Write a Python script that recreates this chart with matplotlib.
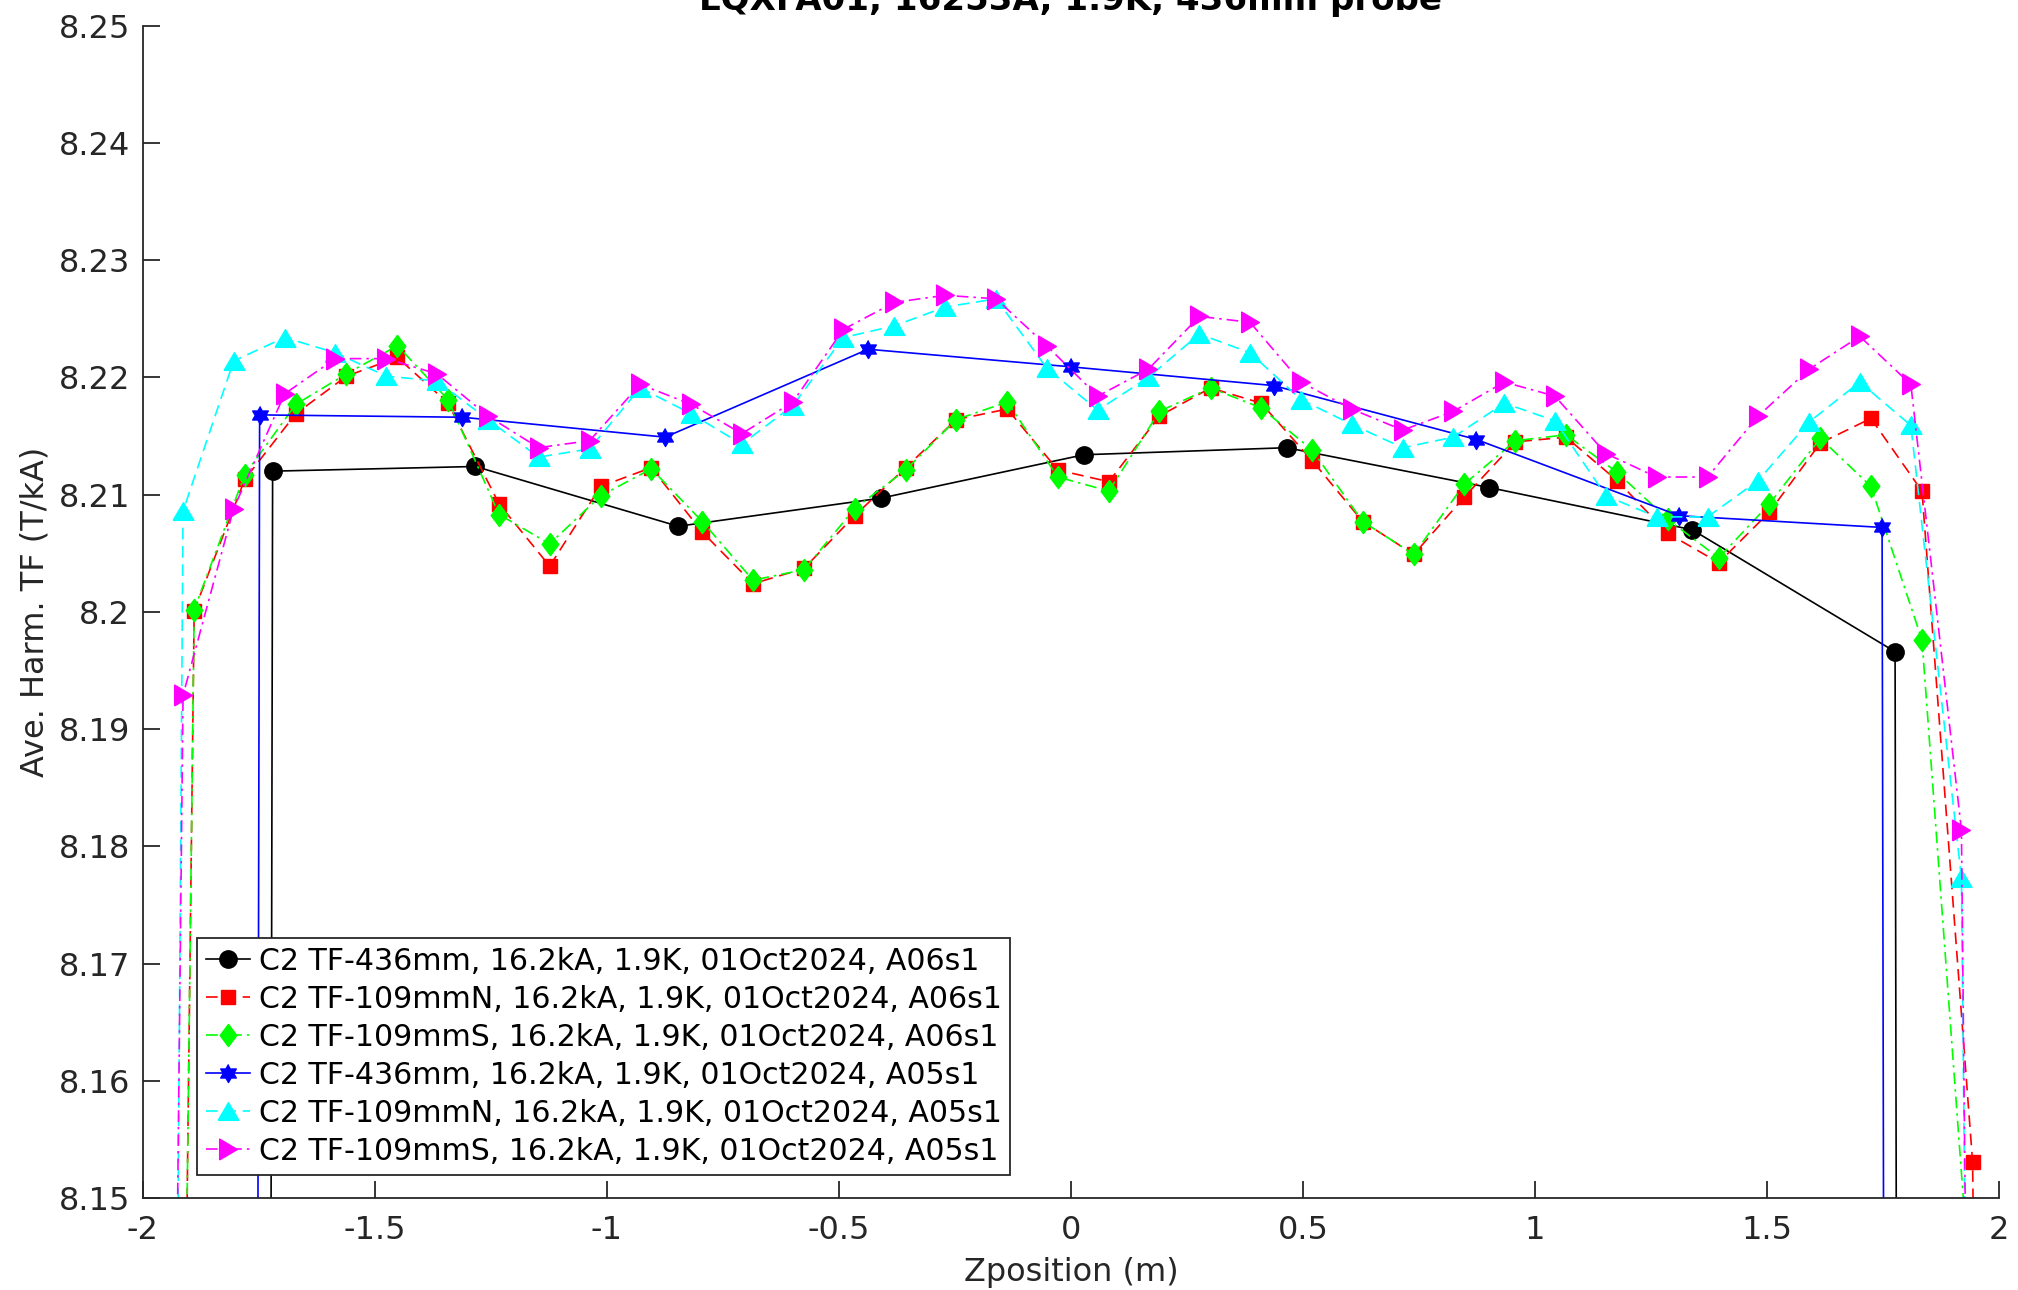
import numpy as np
import matplotlib
matplotlib.use("Agg")
import matplotlib.pyplot as plt

# probe positions along the magnet (m); first/last entries sit outside the plotted window
z_436_a06 = [-2.157, -1.720, -1.283, -0.846, -0.409, 0.028, 0.465, 0.902, 1.339, 1.776, 2.213]
z_436_a05 = [-2.185, -1.748, -1.311, -0.874, -0.437, 0.000, 0.437, 0.874, 1.311, 1.748, 2.185]
z_109_a06 = [-1.998, -1.889, -1.780, -1.670, -1.561, -1.451, -1.342, -1.232, -1.123, -1.013,
             -0.904, -0.794, -0.685, -0.575, -0.466, -0.356, -0.247, -0.137, -0.028, 0.082,
             0.191, 0.301, 0.410, 0.520, 0.629, 0.739, 0.848, 0.958, 1.067, 1.177,
             1.286, 1.396, 1.505, 1.615, 1.724, 1.834, 1.943, 2.053]
z_109_a05 = [-2.022, -1.913, -1.804, -1.694, -1.585, -1.475, -1.366, -1.256, -1.147, -1.037,
             -0.928, -0.818, -0.709, -0.599, -0.490, -0.380, -0.271, -0.161, -0.052, 0.058,
             0.167, 0.277, 0.386, 0.496, 0.605, 0.715, 0.824, 0.934, 1.043, 1.153,
             1.262, 1.372, 1.481, 1.591, 1.700, 1.810, 1.919, 2.029]

# averaged harmonic transfer function (T/kA)
tf_436_a06 = [0.0, 8.2120, 8.2124, 8.2073, 8.2097, 8.2134, 8.2140, 8.2106, 8.2070, 8.1966, 0.0]
tf_109n_a06 = [7.840, 8.2001, 8.2113, 8.2169, 8.2201, 8.2217, 8.2178, 8.2092, 8.2039, 8.2107,
               8.2123, 8.2068, 8.2024, 8.2037, 8.2082, 8.2123, 8.2164, 8.2173, 8.2121, 8.2111,
               8.2167, 8.2191, 8.2178, 8.2129, 8.2077, 8.2049, 8.2098, 8.2145, 8.2149, 8.2112,
               8.2067, 8.2042, 8.2085, 8.2144, 8.2165, 8.2103, 8.1531, 7.800]
tf_109s_a06 = [7.840, 8.2002, 8.2117, 8.2177, 8.2203, 8.2227, 8.2181, 8.2083, 8.2058, 8.2099,
               8.2122, 8.2077, 8.2027, 8.2036, 8.2088, 8.2121, 8.2164, 8.2179, 8.2115, 8.2103,
               8.2171, 8.2191, 8.2174, 8.2138, 8.2077, 8.2049, 8.2109, 8.2146, 8.2151, 8.2119,
               8.2079, 8.2046, 8.2092, 8.2148, 8.2107, 8.1976, 8.1393, 7.800]
tf_436_a05 = [0.0, 8.2168, 8.2166, 8.2149, 8.2224, 8.2209, 8.2193, 8.2147, 8.2082, 8.2072, 0.0]
tf_109n_a05 = [7.600, 8.2086, 8.2214, 8.2234, 8.2221, 8.2201, 8.2197, 8.2164, 8.2132, 8.2139,
               8.2191, 8.2169, 8.2143, 8.2176, 8.2234, 8.2244, 8.2260, 8.2267, 8.2208, 8.2172,
               8.2200, 8.2237, 8.2221, 8.2181, 8.2160, 8.2140, 8.2149, 8.2178, 8.2163, 8.2099,
               8.2081, 8.2081, 8.2112, 8.2162, 8.2196, 8.2159, 8.1773, 7.750]
tf_109s_a05 = [7.790, 8.1929, 8.2088, 8.2186, 8.2216, 8.2216, 8.2203, 8.2167, 8.2140, 8.2146,
               8.2194, 8.2177, 8.2152, 8.2179, 8.2241, 8.2264, 8.2270, 8.2267, 8.2227, 8.2184,
               8.2207, 8.2252, 8.2247, 8.2196, 8.2173, 8.2155, 8.2171, 8.2196, 8.2184, 8.2135,
               8.2115, 8.2115, 8.2167, 8.2207, 8.2235, 8.2194, 8.1814, 7.750]

labels = [
    "C2 TF-436mm, 16.2kA, 1.9K, 01Oct2024, A06s1",
    "C2 TF-109mmN, 16.2kA, 1.9K, 01Oct2024, A06s1",
    "C2 TF-109mmS, 16.2kA, 1.9K, 01Oct2024, A06s1",
    "C2 TF-436mm, 16.2kA, 1.9K, 01Oct2024, A05s1",
    "C2 TF-109mmN, 16.2kA, 1.9K, 01Oct2024, A05s1",
    "C2 TF-109mmS, 16.2kA, 1.9K, 01Oct2024, A05s1",
]
x_ticks = [-2, -1.5, -1, -0.5, 0, 0.5, 1, 1.5, 2]
x_ticklabels = ["-2", "-1.5", "-1", "-0.5", "0", "0.5", "1", "1.5", "2"]
y_ticks = [8.15, 8.16, 8.17, 8.18, 8.19, 8.20, 8.21, 8.22, 8.23, 8.24, 8.25]
y_ticklabels = ["8.15", "8.16", "8.17", "8.18", "8.19", "8.2", "8.21", "8.22", "8.23", "8.24", "8.25"]

# MATLAB-like marker shapes
ang = np.deg2rad(np.arange(12) * 30 + 90)
rad = np.where(np.arange(12) % 2 == 0, 1.0, 0.577)
hexagram = list(zip(rad * np.cos(ang), rad * np.sin(ang)))
diamond = [(0, 1), (0.75, 0), (0, -1), (-0.75, 0), (0, 1)]
tri_up = [(-1, -0.85), (1, -0.85), (0, 0.85), (-1, -0.85)]
tri_right = [(-0.85, -1), (-0.85, 1), (0.85, 0), (-0.85, -1)]

axis_grey = "#262626"
plt.rcParams["font.family"] = "DejaVu Sans"

fig = plt.figure(figsize=(20.18, 12.90), dpi=100)
ax = fig.add_axes([0.0707, 0.0713, 0.9199, 0.9088])

lw = 1.2
ax.plot(z_436_a06, tf_436_a06, "-", color="k", lw=lw, marker="o", ms=12.5, label=labels[0])
ax.plot(z_109_a06, tf_109n_a06, "--", color="#ff0000", lw=lw, marker="s", ms=10.5,
        dashes=(7, 4), label=labels[1])
ax.plot(z_109_a06, tf_109s_a06, "-.", color="#00ff00", lw=lw, marker=diamond, ms=16,
        dashes=(7, 3, 1.5, 3), label=labels[2])
ax.plot(z_436_a05, tf_436_a05, "-", color="#0000ff", lw=lw, marker=hexagram, ms=13, label=labels[3])
ax.plot(z_109_a05, tf_109n_a05, "--", color="#00ffff", lw=lw, marker=tri_up, ms=15,
        dashes=(7, 4), label=labels[4])
ax.plot(z_109_a05, tf_109s_a05, "-.", color="#ff00ff", lw=lw, marker=tri_right, ms=15,
        dashes=(7, 3, 1.5, 3), label=labels[5])

ax.set_xlim(-2, 2)
ax.set_ylim(8.15, 8.25)
ax.set_xticks(x_ticks)
ax.set_xticklabels(x_ticklabels)
ax.set_yticks(y_ticks)
ax.set_yticklabels(y_ticklabels)

for side in ["top", "right"]:
    ax.spines[side].set_visible(False)
for side in ["left", "bottom"]:
    ax.spines[side].set_color(axis_grey)
    ax.spines[side].set_linewidth(1.3)
ax.tick_params(axis="both", direction="in", length=12, width=1.3, color=axis_grey,
               labelcolor=axis_grey, labelsize=23)
ax.tick_params(axis="y", pad=9)
ax.tick_params(axis="x", pad=12)

ax.set_xlabel("Zposition (m)", fontsize=23, color=axis_grey, labelpad=8)
ax.set_ylabel("Ave. Harm. TF (T/kA)", fontsize=23, color=axis_grey, labelpad=6)
fig.text(0.5307, 0.9922, "LQXFA01, 16253A, 1.9K, 436mm probe", ha="center", va="baseline",
         fontsize=24.5, fontweight="bold", color="k")

leg = ax.legend(loc="lower left", bbox_to_anchor=(0.0293, 0.02), fontsize=21.6,
                handlelength=1.45, handletextpad=0.3, labelspacing=0.3, borderpad=0.3,
                borderaxespad=0, fancybox=False, framealpha=1, edgecolor=axis_grey)
leg.get_frame().set_linewidth(1.3)

fig.savefig("out.png", dpi=100, facecolor="white")
